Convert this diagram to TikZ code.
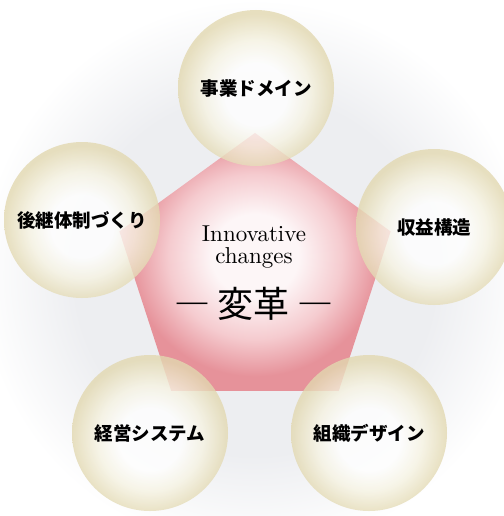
\documentclass[tikz,border=0pt]{standalone}
\usepackage{fontspec}
\newfontfamily\cjk{Noto Sans CJK JP}
\newfontfamily\lmten{lmroman10-regular.otf}
\usetikzlibrary{shapes.geometric}
\definecolor{balledge}{RGB}{226,216,176}
\definecolor{ballmid}{RGB}{246,243,226}
\definecolor{pedge}{RGB}{230,146,154}
\definecolor{pmid}{RGB}{245,203,207}
\definecolor{pcenter}{RGB}{253,246,247}
\definecolor{bgc}{RGB}{237,238,241}
\pgfdeclareradialshading{ball}{\pgfpoint{0bp}{-2.5bp}}{color(0bp)=(white); color(10bp)=(white); color(17bp)=(ballmid); color(25bp)=(balledge); color(50bp)=(balledge)}
\pgfdeclareradialshading{pentsh}{\pgfpoint{0bp}{1.5bp}}{color(0bp)=(pcenter); color(8bp)=(pcenter); color(16bp)=(pmid); color(23bp)=(pedge); color(50bp)=(pedge)}
\pgfdeclareradialshading{bgsh}{\pgfpointorigin}{color(0bp)=(bgc); color(15bp)=(bgc); color(23bp)=(white); color(50bp)=(white)}
\tikzset{
  ball/.style={circle, minimum size=156pt, inner sep=0pt, outer sep=0pt,
    shading=ball, fill opacity=0.8, text opacity=1,
    font=\cjk\bfseries\fontsize{18.5}{20}\selectfont},
  pentagonbox/.style={regular polygon, regular polygon sides=5,
    minimum size=285.2pt, inner sep=0pt, outer sep=0pt, shading=pentsh}
}
\begin{document}
\begin{tikzpicture}[x=1pt,y=-1pt]
\useasboundingbox (0,0) rectangle (503,516);
\fill[white] (0,0) rectangle (503,516);
\shade[shading=bgsh] (255,275) circle[radius=300];
\node[pentagonbox] (pent) at (255,275.5) {};
\node[ball] (top) at (256,88) {事業ドメイン};
\node[ball] (left) at (82,220) {後継体制づくり};
\node[ball] (right) at (434,227) {収益構造};
\node[ball] (bl) at (150,433) {経営システム};
\node[ball] (br) at (369,433) {組織デザイン};
\node[font=\lmten\fontsize{23}{21.6}\selectfont, align=center, inner sep=0pt] (inn) at (254,247) {Innovative\\changes};
\node[font=\cjk\fontsize{36}{38}\selectfont, inner sep=0pt] (henkaku) at (254,304) {―\hspace{8pt}変革\hspace{8pt}―};
\end{tikzpicture}
\end{document}
